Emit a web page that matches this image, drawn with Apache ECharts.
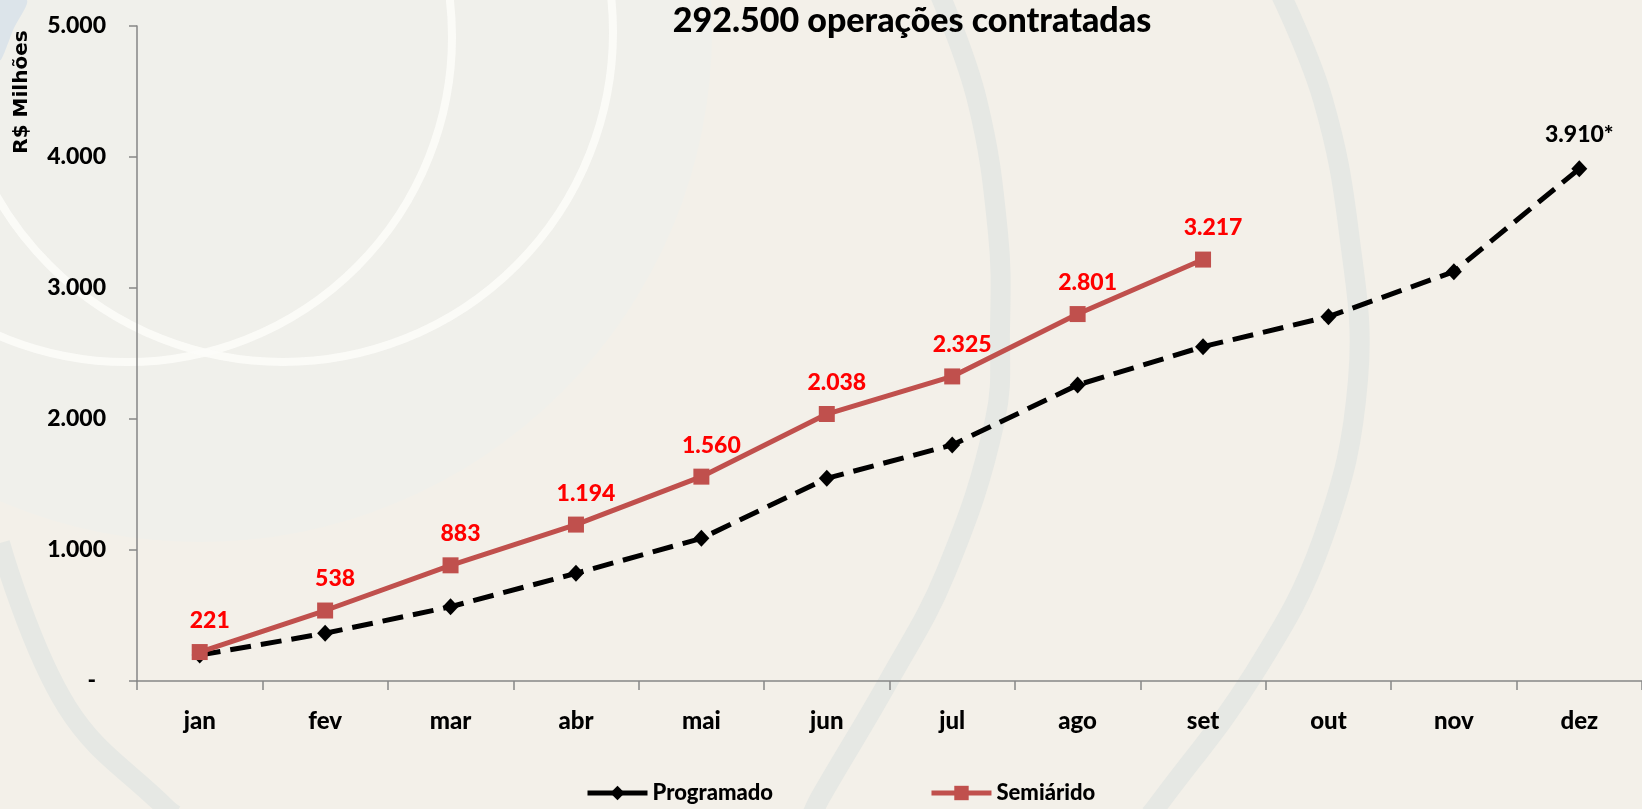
<!DOCTYPE html>
<html>
<head>
<meta charset="utf-8">
<script src="https://cdn.jsdelivr.net/npm/echarts@6/dist/echarts.min.js"></script>
<style>
  html, body { margin: 0; padding: 0; background: #F3F0E9; }
  #chart { width: 1642px; height: 809px; }
</style>
</head>
<body>
<div id="chart"></div>
<script>
// dados
const meses = ["jan", "fev", "mar", "abr", "mai", "jun", "jul", "ago", "set", "out", "nov", "dez"];
const programado = [198, 364, 567, 822, 1089, 1547, 1802, 2260, 2552, 2781, 3125, 3910];
const semiarido = [221, 538, 883, 1194, 1560, 2038, 2325, 2801, 3217];
const titulo = "292.500 operações contratadas";
const unidade = "R$ Milhões";

const FONT = "Lato, 'Open Sans', sans-serif";
const PESO = 900;

// formata 1234 -> 1.234
function milhar(v) {
  return String(v).replace(/\B(?=(\d{3})+(?!\d))/g, ".");
}

const chart = echarts.init(document.getElementById("chart"));

// fundo decorativo (circulos e arcos)
const decor = [
  {
    type: "circle", z: -10, silent: true,
    shape: { cx: 200, cy: 30, r: 512 },
    style: { fill: "#F0F0EB" }
  },
  {
    type: "circle", z: -9, silent: true,
    shape: { cx: 127, cy: 37, r: 325 },
    style: { fill: null, stroke: "rgba(252,252,248,0.9)", lineWidth: 8 }
  },
  {
    type: "circle", z: -9, silent: true,
    shape: { cx: 283, cy: 32, r: 330 },
    style: { fill: null, stroke: "rgba(252,252,248,0.9)", lineWidth: 8 }
  },
  {
    type: "polyline", z: -9, silent: true,
    shape: { points: [[0, 543], [67, 707], [167, 809], [175, 815]], smooth: 0.4 },
    style: { stroke: "#E6E8E4", lineWidth: 20, fill: null }
  },
  {
    type: "polyline", z: -9, silent: true,
    shape: { points: [[940, -5], [977, 100], [998, 233], [1000, 330], [995, 420], [946, 572], [888, 682], [820, 798], [812, 815]], smooth: 0.4 },
    style: { stroke: "#E6E8E4", lineWidth: 20, fill: null }
  },
  {
    type: "polyline", z: -9, silent: true,
    shape: { points: [[1281, -5], [1323, 100], [1349, 233], [1358, 380], [1323, 538], [1255, 672], [1155, 809], [1150, 815]], smooth: 0.4 },
    style: { stroke: "#E6E8E4", lineWidth: 20, fill: null }
  },
  {
    type: "polygon", z: -9, silent: true,
    shape: { points: [[0, 0], [27, 0], [14, 28], [0, 60]], smooth: 0.3 },
    style: { fill: "#DCE4EA" }
  },
  // titulo
  {
    type: "text", x: 912, y: 21,
    style: { text: titulo, align: "center", verticalAlign: "middle", font: PESO + " 34px " + FONT, fill: "#000" }
  },
  // nome do eixo
  {
    type: "text", x: 22, y: 92, rotation: Math.PI / 2,
    style: { text: unidade, align: "center", verticalAlign: "middle", font: "bold 20px 'DejaVu Sans', sans-serif", fill: "#000" }
  }
];

const option = {
  backgroundColor: "#F3F0E9",
  animation: false,
  graphic: decor,
  grid: {
    left: 137,
    right: 0,
    top: 26,
    bottom: 128
  },
  legend: {
    left: 585,
    top: 782,
    padding: 0,
    itemWidth: 60,
    itemHeight: 18,
    itemGap: 156,
    textStyle: { fontFamily: FONT, fontSize: 22, fontWeight: PESO, color: "#000" },
    data: [
      { name: "Programado", lineStyle: { type: "solid", width: 5 } },
      { name: "Semiárido", lineStyle: { width: 5 } }
    ]
  },
  xAxis: {
    type: "category",
    data: meses,
    boundaryGap: true,
    axisLine: { lineStyle: { color: "#868686", width: 1.5 } },
    axisTick: { show: true, length: 9, interval: 0, lineStyle: { color: "#868686", width: 1.5 } },
    axisLabel: { margin: 28, fontFamily: FONT, fontSize: 24, fontWeight: PESO, color: "#000" }
  },
  yAxis: {
    type: "value",
    min: 0,
    max: 5000,
    interval: 1000,
    splitLine: { show: false },
    axisLine: { show: true, lineStyle: { color: "#868686", width: 1.5 } },
    axisTick: { show: true, length: 8, lineStyle: { color: "#868686", width: 1.5 } },
    axisLabel: {
      margin: 31,
      fontFamily: FONT, fontSize: 23, fontWeight: PESO, color: "#000",
      formatter: function (v) { return v === 0 ? "{z|-}" : milhar(v); },
      rich: { z: { fontFamily: FONT, fontSize: 23, fontWeight: PESO, color: "#000", padding: [0, 10, 0, 0] } }
    }
  },
  series: [
    {
      name: "Programado",
      type: "line",
      data: programado,
      symbol: "diamond",
      symbolSize: [16, 17],
      itemStyle: { color: "#000" },
      lineStyle: { color: "#000", width: 5, type: [21, 10] },
      label: {
        show: true,
        position: "top",
        distance: 14,
        fontFamily: FONT, fontSize: 23, fontWeight: PESO, color: "#000",
        formatter: function (p) { return p.dataIndex === meses.length - 1 ? milhar(p.value) + "*" : ""; }
      },
      z: 2
    },
    {
      name: "Semiárido",
      type: "line",
      data: semiarido,
      symbol: "rect",
      symbolSize: 16,
      itemStyle: { color: "#C0504D" },
      lineStyle: { color: "#C0504D", width: 5 },
      label: {
        show: true,
        position: "top",
        distance: 12,
        offset: [10, 0],
        fontFamily: FONT, fontSize: 23, fontWeight: PESO, color: "#FF0000",
        formatter: function (p) { return milhar(p.value); }
      },
      z: 3
    }
  ]
};

chart.setOption(option);
window.addEventListener("resize", function () { chart.resize(); });
</script>
</body>
</html>
